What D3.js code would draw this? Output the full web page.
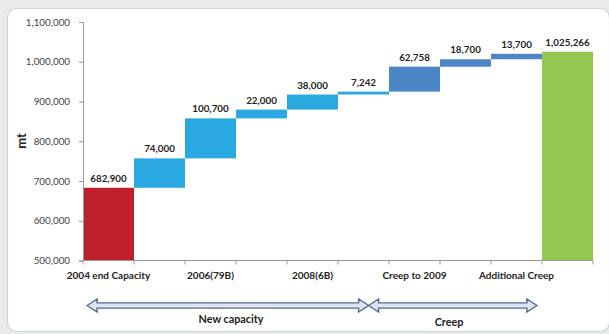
<!DOCTYPE html>
<html>
<head>
<meta charset="utf-8">
<script src="https://cdn.jsdelivr.net/npm/d3@7"></script>
<style>
  html, body { margin: 0; padding: 0; background: #e9eaea; }
  svg { display: block; }
  text { font-family: Lato, "Open Sans", sans-serif; }
</style>
</head>
<body>
<script>
// Capacity build-up, metric tonnes
const tickLabels = ["2004 end Capacity", "", "2006(79B)", "", "2008(6B)", "", "Creep to 2009", "", "Additional Creep", ""];
const barKinds   = ["start", "new", "new", "new", "new", "new", "creep", "creep", "creep", "total"];
const barValues  = [682900, 74000, 100700, 22000, 38000, 7242, 62758, 18700, 13700, 1025266];
const yTicks     = [500000, 600000, 700000, 800000, 900000, 1000000, 1100000];
const groupNames = ["New capacity", "Creep"];
const groupSpans = [[0.08, 5.6], [5.6, 8.9]];   // in category units

const W = 609, H = 334;
const colors = { start: "#BF1E2C", new: "#2AA9E0", creep: "#4C86C6", total: "#92C84F" };

const svg = d3.select("body").append("svg").attr("width", W).attr("height", H);

// chart frame
svg.append("rect")
  .attr("x", 7.5).attr("y", 8.5).attr("width", 602).attr("height", 323)
  .attr("rx", 9).attr("fill", "#fff").attr("stroke", "#c9d5dc").attr("stroke-width", 1.2);

const x = d3.scaleBand().domain(d3.range(barValues.length)).range([83, 593]).padding(0);
const y = d3.scaleLinear().domain([500000, 1100000]).range([260.5, 22]);

// waterfall geometry
let running = 0;
const bars = barValues.map((v, i) => {
  const k = barKinds[i];
  let lo, hi;
  if (k === "start" || k === "total") { lo = 500000; hi = v; running = v; }
  else { lo = running; hi = running + v; running = hi; }
  return { i, v, k, lo, hi };
});

svg.append("g").selectAll("rect").data(bars).join("rect")
  .attr("x", d => x(d.i))
  .attr("width", x.bandwidth())
  .attr("y", d => y(d.hi))
  .attr("height", d => y(d.lo) - y(d.hi))
  .attr("fill", d => colors[d.k]);

svg.append("g").selectAll("text").data(bars).join("text")
  .attr("x", d => x(d.i) + x.bandwidth() / 2)
  .attr("y", d => y(d.hi) - 6)
  .attr("text-anchor", "middle")
  .attr("font-size", 9.8).attr("font-weight", "bold").attr("fill", "#222")
  .text(d => d3.format(",")(d.v));

// y axis
const yAxis = svg.append("g").attr("transform", "translate(83,0)")
  .call(d3.axisLeft(y).tickValues(yTicks).tickFormat(d3.format(",")).tickSize(4).tickPadding(9));
yAxis.select(".domain").attr("stroke", "#999");
yAxis.selectAll(".tick line").attr("stroke", "#999");
yAxis.selectAll(".tick text").attr("font-size", 9.8).attr("fill", "#444")
  .attr("font-family", "Lato, sans-serif");

// x axis: ticks at category boundaries, labels under every other category
const xg = svg.append("g");
xg.append("line").attr("x1", 83).attr("x2", 593).attr("y1", y(500000)).attr("y2", y(500000))
  .attr("stroke", "#999");
xg.selectAll("line.tk").data(d3.range(barValues.length + 1)).join("line").attr("class", "tk")
  .attr("x1", i => 83 + i * x.bandwidth()).attr("x2", i => 83 + i * x.bandwidth())
  .attr("y1", y(500000)).attr("y2", y(500000) + 4).attr("stroke", "#999");
xg.selectAll("text").data(tickLabels.map((t, i) => ({ t, i })).filter(d => d.t)).join("text")
  .attr("x", d => x(d.i) + x.bandwidth() / 2)
  .attr("y", y(500000) + 18)
  .attr("text-anchor", "middle")
  .attr("font-size", 10).attr("font-weight", "bold").attr("fill", "#222")
  .text(d => d.t);

// axis title
svg.append("text")
  .attr("transform", "translate(26,141) rotate(-90)")
  .attr("text-anchor", "middle")
  .attr("font-size", 13).attr("font-weight", "bold").attr("fill", "#222")
  .text("mt");

// double-headed group arrows
const cx = u => 83 + u * x.bandwidth();
const ay = 305.5, sh = 2.6, hh = 6.5, hl = 10;
function arrowPath(x1, x2) {
  return `M${x1},${ay} L${x1 + hl},${ay - hh} L${x1 + hl},${ay - sh} L${x2 - hl},${ay - sh} L${x2 - hl},${ay - hh} ` +
         `L${x2},${ay} L${x2 - hl},${ay + hh} L${x2 - hl},${ay + sh} L${x1 + hl},${ay + sh} L${x1 + hl},${ay + hh} Z`;
}
svg.append("g").selectAll("path").data(groupSpans).join("path")
  .attr("d", s => arrowPath(cx(s[0]), cx(s[1])))
  .attr("fill", "#dfe5f2").attr("stroke", "#56698f").attr("stroke-width", 1.4)
  .attr("stroke-linejoin", "miter");

const groupLabelPos = [[231, 322.5], [449, 325.5]];
svg.append("g").selectAll("text").data(groupNames).join("text")
  .attr("x", (d, i) => groupLabelPos[i][0])
  .attr("y", (d, i) => groupLabelPos[i][1])
  .attr("text-anchor", "middle")
  .attr("font-size", 10.8).attr("font-weight", "bold").attr("fill", "#222")
  .text(d => d);
</script>
</body>
</html>
